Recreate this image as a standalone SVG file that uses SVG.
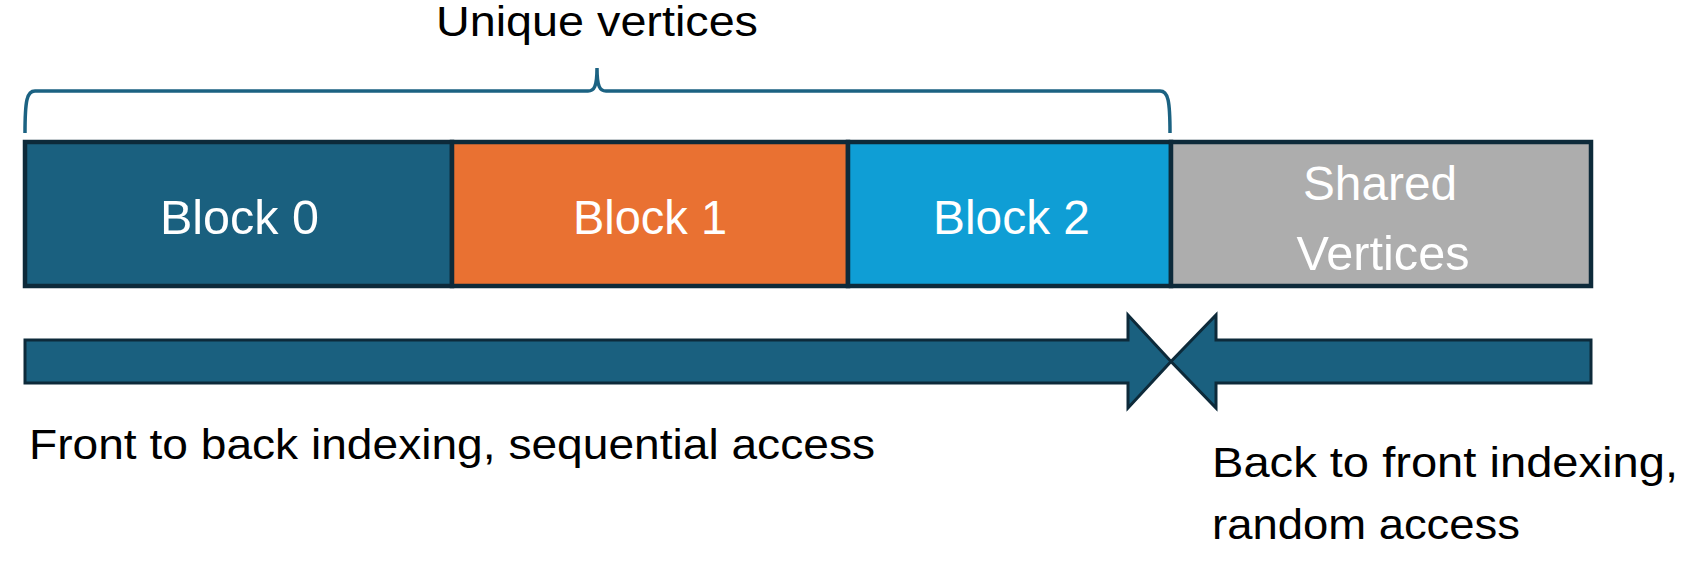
<svg xmlns="http://www.w3.org/2000/svg" width="1697" height="565" viewBox="0 0 1697 565">
  <style>
    .blk { stroke: #0d2a3a; stroke-width: 4.5; }
    .lbl { font-family: "Liberation Sans", Arial, sans-serif; font-size: 48px; fill: #ffffff; text-anchor: middle; }
    .cap { font-family: "Liberation Sans", Arial, sans-serif; font-size: 43px; fill: #000000; }
    .arrow { fill: #1a607f; stroke: #0d2a3a; stroke-width: 3; stroke-linejoin: miter; }
  </style>
  <rect width="1697" height="565" fill="#ffffff"/>

  <g id="brace">
    <path d="M25,133 C25,100 27,91 35,91 L588,91 C594,91 597,87 597,68 C597,87 600,91 606,91 L1160,91 C1168,91 1170,100 1170,133" fill="none" stroke="#1b6282" stroke-width="3.5"/>
    <text class="cap" x="436" y="36" font-size="41" textLength="322" lengthAdjust="spacingAndGlyphs">Unique vertices</text>
  </g>

  <g id="block0">
    <rect class="blk" x="25" y="142" width="427" height="144" fill="#1a607f"/>
    <text class="lbl" x="239.5" y="234" textLength="159" lengthAdjust="spacingAndGlyphs">Block 0</text>
  </g>
  <g id="block1">
    <rect class="blk" x="452" y="142" width="396" height="144" fill="#e97132"/>
    <text class="lbl" x="650" y="234" textLength="154" lengthAdjust="spacingAndGlyphs">Block 1</text>
  </g>
  <g id="block2">
    <rect class="blk" x="848" y="142" width="323" height="144" fill="#0f9ed5"/>
    <text class="lbl" x="1011.5" y="234" textLength="157" lengthAdjust="spacingAndGlyphs">Block 2</text>
  </g>
  <g id="shared">
    <rect class="blk" x="1171" y="142" width="420" height="144" fill="#adadad"/>
    <text class="lbl" x="1380" y="200" textLength="154" lengthAdjust="spacingAndGlyphs">Shared</text>
    <text class="lbl" x="1383" y="270" textLength="173" lengthAdjust="spacingAndGlyphs">Vertices</text>
  </g>

  <g id="connectors">
    <polygon id="arrow-forward" class="arrow" points="25,340 1128,340 1128,315 1171,361.5 1128,408 1128,383 25,383"/>
    <polygon id="arrow-backward" class="arrow" points="1591,340 1216,340 1216,315 1171,361.5 1216,408 1216,383 1591,383"/>
  </g>

  <g id="front-label">
    <text class="cap" x="29" y="459" textLength="846" lengthAdjust="spacingAndGlyphs">Front to back indexing, sequential access</text>
  </g>
  <g id="back-label">
    <text class="cap" x="1212" y="477" textLength="466" lengthAdjust="spacingAndGlyphs">Back to front indexing,</text>
    <text class="cap" x="1212" y="539" textLength="308" lengthAdjust="spacingAndGlyphs">random access</text>
  </g>
</svg>
